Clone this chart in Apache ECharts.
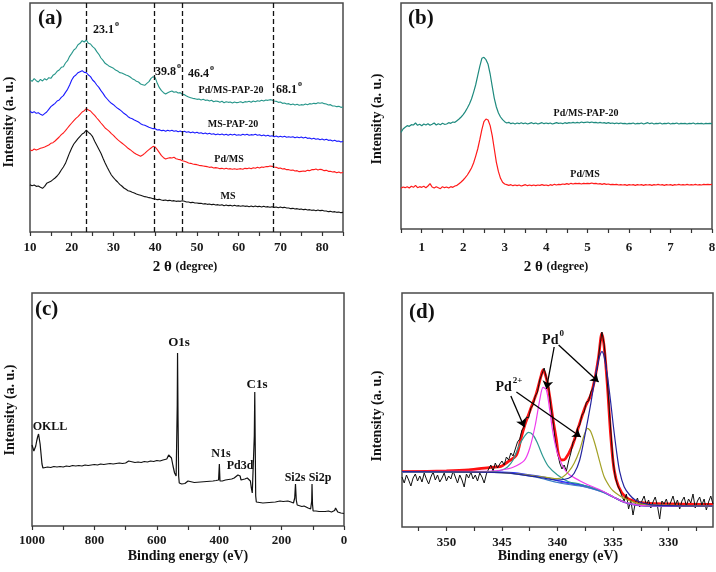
<!DOCTYPE html>
<html><head><meta charset="utf-8">
<script src="https://cdn.jsdelivr.net/npm/echarts@6/dist/echarts.min.js"></script>
<style>html,body{margin:0;padding:0;background:#fff}#chart{width:716px;height:572px}</style>
</head><body><div id="chart"></div>
<script>
const FONT = '"Liberation Serif", "Times New Roman", serif';

// ---------- (a) wide-angle XRD ----------
const wideStart = 10, wideStep = 0.5;
const wideTicks = [10,15,20,25,30,35,40,45,50,55,60,65,70,75,80,85];
const wideLabels = [10,20,30,40,50,60,70,80];
const widePeakLines = [23.5, 39.8, 46.6, 68.2];
const widePdMSPAP = [
457,452,460,454,450,458,453,460,456,463,
461,470,474,482,486,494,496,507,514,527,
536,546,551,562,566,574,570,576,566,564,
556,551,541,533,522,515,506,502,497,494,
491,486,483,478,477,474,471,469,465,460,
457,452,450,444,442,440,446,451,461,466,
463,446,433,424,418,414,418,421,423,419,
421,417,418,413,412,408,405,403,401,400,
398,399,396,398,395,396,393,395,391,393,
392,389,392,388,391,389,390,387,390,388,
389,391,388,391,390,392,389,393,391,394,
392,395,393,396,395,397,396,393,392,389,
390,386,387,384,385,382,384,381,383,380,
382,381,384,382,385,384,386,385,388,386,
388,385,384,381,382,378,378,376,377,374,
375];
const wideMSPAP = [
362,358,361,356,358,353,350,355,360,368,
376,381,386,393,396,404,409,419,428,441,
456,466,471,478,481,484,479,478,471,466,
456,450,441,434,424,416,406,399,392,386,
382,376,371,367,362,356,352,346,342,340,
336,333,330,325,322,320,317,314,312,310,
310,306,307,304,305,302,305,303,305,302,
304,301,303,300,302,299,301,298,300,297,
299,296,298,295,297,294,296,293,295,292,
294,292,294,291,293,290,293,291,293,290,
292,290,293,291,293,290,292,291,293,290,
292,289,291,288,290,287,289,286,288,285,
287,285,287,284,286,284,286,283,285,283,
285,282,284,281,282,279,281,278,280,277,
279,276,278,275,276,273,275,272,273,270,
272];
const widePdMS = [
247,244,249,246,248,251,253,255,258,261,
266,268,273,279,285,292,297,304,312,320,
327,334,341,346,353,360,364,370,366,363,
356,350,342,335,327,320,312,307,302,295,
290,283,277,272,267,262,257,251,247,242,
237,233,230,227,231,236,242,247,252,257,
255,247,238,229,223,219,221,223,222,224,
220,218,217,214,212,210,207,206,204,203,
202,200,199,198,197,196,194,195,192,193,
192,190,191,189,191,189,190,188,190,188,
189,190,188,191,190,192,190,193,191,194,
192,195,194,196,196,198,197,195,194,191,
192,189,190,187,187,185,186,183,184,181,
182,183,182,185,184,187,187,189,186,188,
187,184,185,182,182,180,181,178,180,177,
179];
const wideMS = [
142,139,141,137,138,134,131,137,146,149,
152,157,162,168,176,186,195,206,222,238,
252,264,272,280,287,294,298,306,299,294,
286,272,260,248,236,221,207,194,182,171,
163,156,150,143,138,132,128,124,122,119,
117,114,112,110,108,106,105,103,102,100,
99,97,98,96,95,96,94,95,93,94,
92,93,92,94,92,90,90,88,89,87,
87,86,86,84,85,83,84,82,83,81,
82,80,82,79,81,79,80,78,80,78,
79,77,79,77,78,76,78,76,78,76,
77,75,77,75,76,74,76,74,75,73,
75,73,74,72,72,70,71,69,70,68,
69,67,68,66,67,65,66,64,66,64,
65,63,63,61,62,60,61,59,60,58,
59];

// ---------- (b) low-angle XRD ----------
const lowStart = 0.5, lowStep = 0.05;
const lowTicks = [0.5,1,1.5,2,2.5,3,3.5,4,4.5,5,5.5,6,6.5,7,7.5,8];
const lowLabels = [1,2,3,4,5,6,7,8];
const lowPdMSPAP = [
290,300,305,310,308,313,312,318,311,314,
310,315,312,316,311,314,318,312,316,313,
317,314,315,319,317,321,320,325,330,336,
343,352,363,375,390,410,432,460,488,512,
515,508,494,465,428,392,366,348,336,328,
322,318,320,316,318,315,318,316,319,316,
318,315,317,319,316,318,315,317,319,316,
318,316,318,315,317,319,317,318,316,319,
317,319,318,320,318,320,318,321,319,320,
321,319,321,319,320,318,320,318,319,317,
319,317,318,316,318,316,318,316,317,315,
317,316,318,315,317,316,318,315,317,319,
316,318,315,317,316,318,315,317,316,318,
315,317,316,318,315,317,316,317,315,317,
316,318,315,317,316,317,315,317,316,317,
316];
const lowPdMS = [
122,126,124,127,123,128,125,131,124,127,
125,128,124,129,136,126,123,127,124,121,
127,124,126,123,127,125,129,131,136,141,
147,154,162,172,183,198,218,240,268,298,
322,330,327,310,280,240,200,172,152,140,
135,133,131,133,130,132,130,132,129,131,
133,130,132,130,132,130,132,131,133,131,
132,130,133,131,134,132,134,133,135,134,
136,134,137,135,137,136,137,135,137,136,
137,136,138,136,137,135,136,134,136,134,
135,133,134,133,134,132,133,132,133,131,
133,132,133,131,133,132,133,131,133,132,
133,131,133,132,134,132,133,131,133,132,
133,131,133,132,134,132,133,132,134,132,
133,132,134,132,133,132,134,133,134,133,
134];

// ---------- (c) XPS survey ----------
const surveyTicks = [0,100,200,300,400,500,600,700,800,900,1000];
const surveyLabels = [0,200,400,600,800,1000];
const surveyEnergy = [1000,997,994,991,988,985,982,979,977,974,971,968,965,960,950,940,930,920,910,900,890,880,870,860,850,840,830,820,810,800,790,780,770,760,750,740,730,720,710,700,690,685,670,660,650,640,630,620,610,600,590,580,575,568,562,558,553,548,543,538,536,534.5,533.5,532,530,528,525,520,510,500,495,480,460,440,420,410,402,399.5,397.5,390,380,370,360,352,346,340,337,333,330,325,318,310,305,300,297,294,290,287.5,286,284.5,283,281,275,260,240,220,205,200,195,180,170,162,158,155.5,153,150,145,135,128,125,122,115,107,103.5,102.5,101,99,90,80,60,50,40,30,27,24,20,10,0];
const surveyIntensity = [81,78,75,76,80,85,89,92,90,82,72,62,58,58,59,58.5,59.5,59,59.5,59,60,59.5,60.5,60,60.5,60,61,60.5,61,61.5,61,62,61.5,62,62.5,62,62.5,63,62.5,63,65,63,63.5,64,63.5,64.5,64,65,64.5,65.5,65,66,65,67,71,72,68,60,53,50,52,120,173,110,50,43,41,42,42.5,45,43,43.5,44,44.5,45,45.5,46,62,45,45,46,46.5,47,48,48,51,53,50,46,46,47,48,49,45,38,33,35,90,134,80,30,24,23,23,23.5,24,25,26,24.5,25,24,23,28,42,26,21,20,19.5,20,21,19,18,17,25,42,22,15,15,14.5,14.5,15,14,15.5,18,16,14,13,12.5];

// ---------- (d) Pd 3d ----------
const pdTicks = [327.5,330,332.5,335,337.5,340,342.5,345,347.5,350,352.5];
const pdLabels = [330,335,340,345,350];
const pdRawStart = 354, pdRawStep = -0.2;
const pdRaw = [
50,44,52,47,41,49,53,46,51,45,
54,48,43,50,55,47,52,45,49,54,
46,51,48,56,50,44,52,47,40,53,
49,55,48,52,46,54,50,44,53,58,
62,56,64,59,63,66,62,70,67,74,
71,78,85,88,97,100,110,109,119,122,
131,135,147,153,159,149,141,120,106,86,
75,64,58,62,56,66,74,85,88,99,
102,112,115,125,126,135,139,150,160,180,
195,183,158,128,96,66,50,42,37,31,
26,33,18,27,12,24,29,20,26,31,
22,27,19,25,30,21,8,26,23,28,
20,25,31,22,27,18,26,30,21,28,
24,33,19,26,30,22,28,17,25,31,
23];
const pdEnvelope = [[354,55.3],[350,56],[348,57],[346,59.7],[345.2,60.3],[344.5,65],[343.7,72],[343.3,88],[343.0,100],[342.4,118.7],[341.9,133.7],[341.5,150.3],[341.3,157],[341.0,148.7],[340.7,130.3],[340.4,107],[340.1,87],[339.9,72],[339.6,67],[339.3,68],[338.7,80.3],[338.1,100.3],[337.5,120.3],[337.0,132],[336.6,150.3],[336.3,170.3],[336.0,193.7],[335.8,180.3],[335.5,140.3],[335.2,90.3],[334.9,57],[334.5,40.3],[333.9,30.3],[333,25.3],[331.8,23.7],[326,22.7]];
const pdBackground1 = [[354,55.3],[346,55.3],[345,55],[344,54.3],[343,53],[342,51.3],[341,49.3],[340,46.3],[339,44.3],[338,42.3],[337,39.7],[336,35.7],[335,30.3],[334,25],[333,22.3],[332,21.3],[326,21]];
const pdBackground2 = [[354,54.5],[346,54.5],[344,53.3],[342,50],[340,44.5],[339,42.5],[338,41],[337,38.5],[336,35],[335,30],[334,25],[333,22.3],[326,21]];
const pdBackground3 = [[340,45],[338,41.5],[336,35.3],[335,30],[334,24.5],[333,21.8],[332,20.8],[326,20.5]];
const pd2plusA = [[354,55.3],[346,55.3],[345,57],[344.5,60],[344,67],[343.5,80.3],[343,90.3],[342.6,94.7],[342.2,92],[341.8,83.7],[341.3,70.3],[340.8,60.3],[340,52],[339,45.3],[338,43],[337,39.7],[336,35.7],[335,30.3],[334,25],[333,22.3],[332,21.3],[326,21]];
const pd0A = [[354,55.3],[346,56],[345,57],[344,59.7],[343,66.3],[342.5,78.7],[342,102],[341.6,127],[341.3,139.7],[341.0,137],[340.7,117],[340.4,93.7],[340,73.7],[339.5,60.3],[339,53],[338,46.3],[337,41],[336,36.3],[335,30.3],[334,25],[333,22.3],[332,21.3],[326,21]];
const pd2plusB = [[354,55.3],[345,54.3],[342,51],[341,49.7],[340,48.3],[339.5,50.3],[339,55.3],[338.5,63.7],[338,77],[337.6,92],[337.3,98.7],[337.0,95.3],[336.6,82],[336.2,65.3],[335.8,50.3],[335.3,40.3],[335,36.3],[334.5,32],[334,28.7],[333,24.3],[332,22.3],[326,21]];
const pd0B = [[354,55.3],[345,54.3],[342,50.3],[341,48.3],[340,47],[339,48.7],[338.5,53.7],[338,67],[337.5,93.7],[337,123.7],[336.6,150.3],[336.3,167],[336.0,175.3],[335.8,170.3],[335.5,150.3],[335.2,123.7],[335,103.7],[334.7,77],[334.4,55.3],[334,40.3],[333.5,32],[333,27],[332,23],[331,21.7],[326,21]];
const pdArrows = [
  [[340.3,180],[341.0,138]],
  [[339.9,182],[336.3,145]],
  [[344.2,131],[343.0,100]],
  [[343.7,135],[337.9,90]]
];

// ---------- build ----------
const seq = (arr, start, step) => arr.map((v, i) => [+(start + i * step).toFixed(3), v]);
const zip = (xs, ys) => xs.map((x, i) => [x, ys[i]]);

function xAx(grid, min, max, ticks, labels, margin, inverse) {
  return {
    gridIndex: grid, type: 'value', min: min, max: max, inverse: !!inverse,
    axisLine: {show: false},
    splitLine: {show: false},
    axisTick: {show: true, inside: false, length: 4, customValues: ticks, lineStyle: {color: '#333', width: 1.2}},
    axisLabel: {customValues: labels, margin: margin, fontFamily: FONT, fontWeight: 'bold', fontSize: 13, color: '#1a1a1a',
      formatter: v => String(v)}
  };
}
function yAx(grid, max) { return {gridIndex: grid, type: 'value', min: 0, max: max, show: false}; }
function line(xi, data, color, width, extra) {
  return Object.assign({type: 'line', xAxisIndex: xi, yAxisIndex: xi, data: data, symbol: 'none', showSymbol: false,
    lineStyle: {color: color, width: width}, itemStyle: {color: color}, silent: true}, extra || {});
}

const gridStyle = {show: true, borderColor: '#4a4a4a', borderWidth: 1.5, backgroundColor: 'transparent', outerBoundsMode: 'none', containLabel: false};

function T(text, x, y, size, align) {
  return {type: 'text', x: x, y: y, silent: true, style: {text: text, font: 'bold ' + size + 'px ' + FONT, fill: '#111', textAlign: align || 'center', textVerticalAlign: 'middle'}};
}
function S(base, sup, x, y, size, supSize, align) {
  return {type: 'text', x: x, y: y - 2, silent: true, style: {
    text: '{a|' + base + '}{s|' + sup + '}', fill: '#111', textAlign: align || 'center', textVerticalAlign: 'middle',
    rich: {
      a: {fontFamily: FONT, fontWeight: 'bold', fontSize: size, padding: [4, 0, 0, 0], fill: '#111'},
      s: {fontFamily: FONT, fontWeight: 'bold', fontSize: supSize, verticalAlign: 'top', fill: '#111', padding: [0, 0, 0, 1]}
    }}};
}
function YT(x, y) {
  return {type: 'text', x: x, y: y, rotation: Math.PI / 2, silent: true, style: {text: 'Intensity (a. u.)', font: 'bold 14px ' + FONT, fill: '#111', textAlign: 'center', textVerticalAlign: 'middle'}};
}
function thetaTitle(x, y) {
  return {type: 'text', x: x, y: y, silent: true, style: {text: '{m|2 θ }{s|(degree)}', fill: '#111', textAlign: 'center', textVerticalAlign: 'middle',
    rich: {m: {fontFamily: FONT, fontWeight: 'bold', fontSize: 15, fill: '#111'}, s: {fontFamily: FONT, fontWeight: 'bold', fontSize: 12, fill: '#111'}}}};
}

const option = {
  animation: false,
  backgroundColor: '#ffffff',
  grid: [
    Object.assign({left: 30, top: 3, width: 313, height: 229}, gridStyle),
    Object.assign({left: 401, top: 3, width: 311, height: 226}, gridStyle),
    Object.assign({left: 32, top: 293, width: 312, height: 233}, gridStyle),
    Object.assign({left: 402, top: 293, width: 311, height: 234}, gridStyle)
  ],
  xAxis: [
    xAx(0, 10, 85, wideTicks, wideLabels, 9),
    xAx(1, 0.5, 8, lowTicks, lowLabels, 12),
    xAx(2, 0, 1000, surveyTicks, surveyLabels, 8, true),
    xAx(3, 326, 354, pdTicks, pdLabels, 9, true)
  ],
  yAxis: [yAx(0, 687), yAx(1, 678), yAx(2, 233), yAx(3, 234)],
  series: [
    line(0, seq(wideMS, wideStart, wideStep), '#111111', 1.1, {
      markLine: {silent: true, symbol: ['none', 'none'], label: {show: false},
        lineStyle: {type: [5, 3], color: '#111', width: 1.3},
        data: widePeakLines.map(v => ({xAxis: v}))}
    }),
    line(0, seq(widePdMS, wideStart, wideStep), '#ff1a1a', 1.1),
    line(0, seq(wideMSPAP, wideStart, wideStep), '#1a1aff', 1.1),
    line(0, seq(widePdMSPAP, wideStart, wideStep), '#27968a', 1.1),
    line(1, seq(lowPdMS, lowStart, lowStep), '#ff1a1a', 1.2),
    line(1, seq(lowPdMSPAP, lowStart, lowStep), '#1e8a7e', 1.2),
    line(2, zip(surveyEnergy, surveyIntensity), '#111111', 1.2),
    line(3, pdEnvelope, '#ff1010', 2.8, {smooth: 0.3, z: 2}),
    line(3, seq(pdRaw, pdRawStart, pdRawStep), '#111111', 1, {z: 3}),
    line(3, pdBackground3, '#7b3fbf', 1.2, {smooth: 0.3, z: 4}),
    line(3, pdBackground2, '#3a7fc8', 1.2, {smooth: 0.3, z: 4}),
    line(3, pdBackground1, '#1f2fff', 1.2, {smooth: 0.3, z: 4}),
    line(3, pd2plusA, '#2f9a92', 1.2, {smooth: 0.3, z: 4}),
    line(3, pd0A, '#ee3cee', 1.2, {smooth: 0.3, z: 4}),
    line(3, pd2plusB, '#a3a126', 1.2, {smooth: 0.3, z: 4}),
    line(3, pd0B, '#24249e', 1.2, {smooth: 0.3, z: 4,
      markLine: {silent: true, symbol: ['none', 'arrow'], symbolSize: 8, label: {show: false},
        lineStyle: {type: 'solid', color: '#000', width: 1.3},
        data: pdArrows.map(a => [{coord: a[0]}, {coord: a[1]}])}
    })
  ],
  graphic: [
    T('(a)', 38, 19, 21, 'left'),
    S('23.1', 'o', 93, 30, 12, 8, 'left'),
    S('39.8', 'o', 155, 72, 12, 8, 'left'),
    S('46.4', 'o', 188, 74, 12, 8, 'left'),
    S('68.1', 'o', 276, 90, 12, 8, 'left'),
    T('Pd/MS-PAP-20', 231, 90, 10),
    T('MS-PAP-20', 233, 124, 10),
    T('Pd/MS', 229, 159, 10),
    T('MS', 228, 196, 10),
    thetaTitle(185, 267),
    YT(9, 122),
    T('(b)', 408, 19, 21, 'left'),
    T('Pd/MS-PAP-20', 586, 113, 10),
    T('Pd/MS', 585, 174, 10),
    thetaTitle(556, 267),
    YT(377, 119),
    T('(c)', 35, 310, 21, 'left'),
    T('O1s', 179, 343, 13),
    T('C1s', 257, 385, 13),
    T('OKLL', 50, 427, 12),
    T('N1s', 221, 454, 12),
    T('Pd3d', 240, 466, 12),
    T('Si2s', 295, 478, 12),
    T('Si2p', 320, 478, 12),
    T('Binding energy (eV)', 188, 556, 14),
    YT(10, 410),
    T('(d)', 409, 313, 21, 'left'),
    S('Pd', '0', 553, 340, 14, 9),
    S('Pd', '2+', 509, 387, 14, 9),
    T('Binding energy (eV)', 558, 556, 14),
    YT(377, 416)
  ]
};

const chart = echarts.init(document.getElementById('chart'), null, {renderer: 'canvas'});
chart.setOption(option);
</script>
</body></html>
